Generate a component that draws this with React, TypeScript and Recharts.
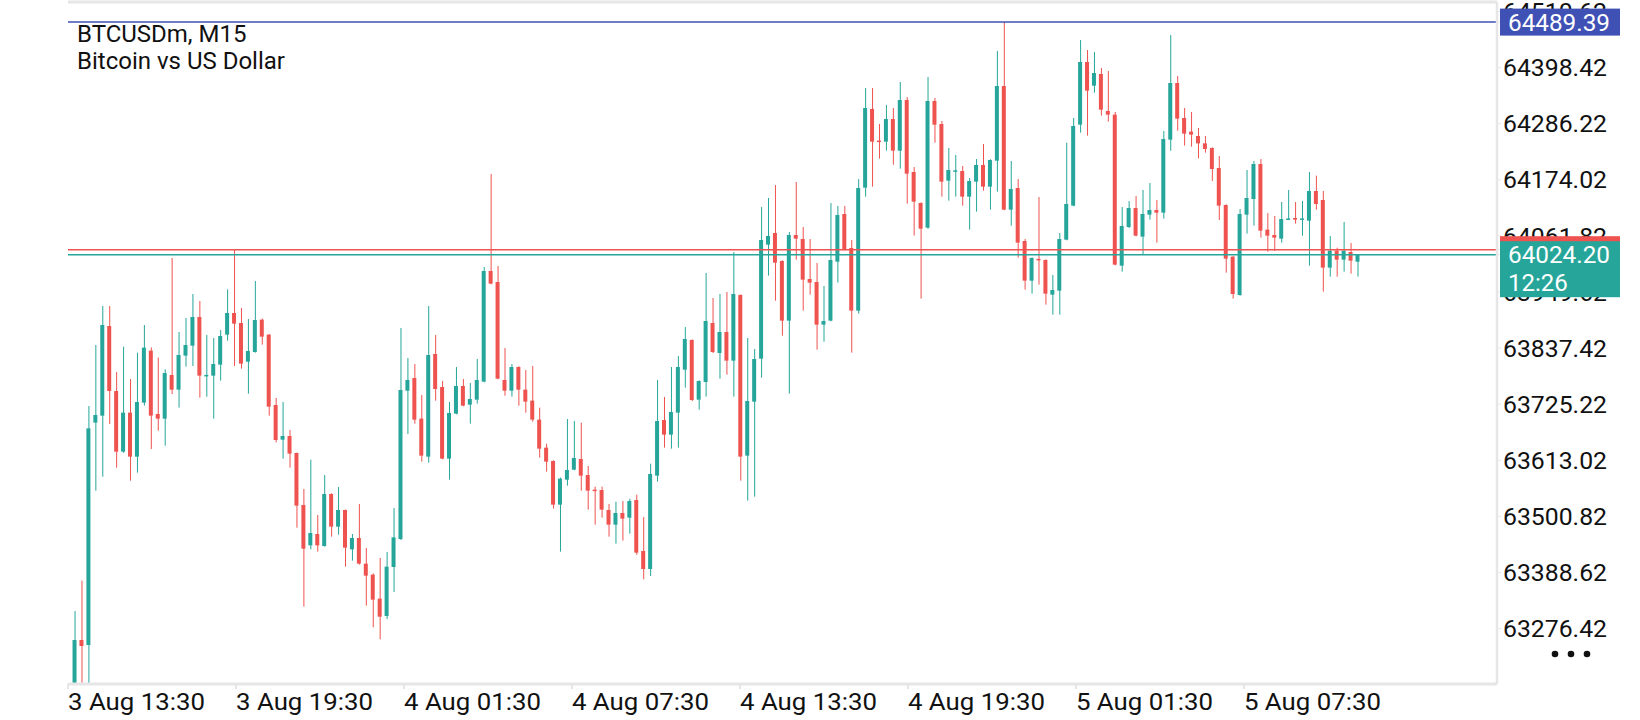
import { ComposedChart, Bar, XAxis, YAxis, ReferenceLine } from "recharts";

// BTCUSDm M15 candles, 3 Aug 13:45 onward
const OPEN = [
  63160, 63253.6, 63243.6, 63688.3, 63702.3, 63881.6, 63751.6, 63630.3, 63708.3, 63620.3,
  63728.3, 63832.3, 63705.6, 63696.3, 63783.6, 63754.3, 63822.3, 63842.3, 63899.6, 63780.9,
  63782.3, 63804.3, 63864.3, 63907.6, 63887.6, 63810.3, 63829.6, 63894.3, 63864.3, 63723.6,
  63654.3, 63661.6, 63627.6, 63523.6, 63442.9, 63465.6, 63441.6, 63545.6, 63480.3, 63513.6,
  63434.9, 63457.6, 63406.3, 63384.3, 63336.3, 63301.6, 63399.6, 63455.6, 63752.3, 63777.6,
  63696.3, 63620.3, 63825.6, 63759.6, 63616.3, 63706.3, 63761.6, 63724.3, 63734.3, 63770.3,
  63991.6, 63969.6, 63773.6, 63752.3, 63799.6, 63754.3, 63732.3, 63694.3, 63638.3, 63611.6,
  63524.3, 63574.3, 63594.3, 63615.6, 63583.6, 63553.6, 63553.6, 63513.6, 63484.3, 63507.6,
  63498.3, 63533.6, 63431.6, 63395.6, 63582.3, 63693.6, 63664.3, 63708.3, 63794.3, 63853.6,
  63734.3, 63769.6, 63887.6, 63827.6, 63869.6, 63812.3, 63943.6, 63622.3, 63730.3, 63816.3,
  64044.3, 64067.6, 64011.6, 63892.3, 64063.6, 64055.6, 63975.6, 63969.6, 63884.3, 63892.3,
  64010.3, 64105.6, 64037.6, 63912.3, 64158.3, 64315.6, 64251.5, 64250.3, 64295.6, 64232.3,
  64333.6, 64189.6, 64127.6, 64078.3, 64331.6, 64285.6, 64172.3, 64191, 64191.6, 64140.3,
  64170.3, 64203.6, 64160.3, 64212.3, 64361.6, 64114.3, 64157.6, 64051.6, 63972.3, 64015,
  64013.6, 63944.3, 63952.3, 64054.3, 64122.3, 64284.3, 64409.6, 64362.3, 64385.6, 64311.6,
  64304.3, 64002.3, 64079.6, 64117.6, 64060.3, 64104.3, 64113.6, 64108.3, 64254.3, 64367.6,
  64297.6, 64270.3, 64261.6, 64246.9, 64237.6, 64197.6, 64123.6, 64020.3, 63943.6, 64104.3,
  64135.6, 64205.6, 64074.3, 64063.6, 64056.3, 64094.9, 64097.6, 64094.3, 64092.3, 64151.6,
  64133.6, 63998.3, 64032.3, 64014.3, 64029.6, 64010.3,
];

const HIGH = [
  63311.6, 63372.2, 63721.6, 63843.6, 63921.6, 63921.6, 63789.6, 63840.3, 63775.6, 63828.3,
  63883.6, 63838.9, 63818.3, 63794.9, 64017.6, 63869.6, 63897.6, 63945.6, 63931.6, 63863.6,
  63857.6, 63873.6, 63954.9, 64033.6, 63917.6, 63895.6, 63971.6, 63896.3, 63865.6, 63737.6,
  63729.6, 63673.6, 63628.5, 63555.6, 63614.3, 63503.6, 63583.6, 63547, 63559.6, 63514.5,
  63465.6, 63525.6, 63437.6, 63386.9, 63417.6, 63429.6, 63517.6, 63877.6, 63817.6, 63805.6,
  63743.6, 63921.6, 63863.6, 63771.6, 63729.6, 63799.6, 63775.6, 63767.6, 63815.6, 63999.6,
  64185.6, 64001.6, 63837.6, 63805.6, 63801, 63793.6, 63801.6, 63718.3, 63646.3, 63613,
  63578.3, 63695.6, 63691.6, 63688.3, 63601.6, 63560.3, 63560.3, 63525.6, 63530.3, 63531.6,
  63536.3, 63544.3, 63499.6, 63606.3, 63773.6, 63739.6, 63799.6, 63821.6, 63879.6, 63855,
  63773, 63987.6, 63937.6, 63945.6, 63949.6, 64029.6, 63945, 63857.6, 63835.6, 64119.6,
  64137.6, 64163.6, 64013, 64069.6, 64169.6, 64079.6, 64055.6, 64007.6, 63961.6, 64127.6,
  64121.6, 64121.6, 64053.6, 64175.6, 64357.6, 64357.6, 64285.6, 64323.6, 64317.6, 64369.6,
  64339.6, 64199.6, 64129, 64379.6, 64337.6, 64291.6, 64237.6, 64223.6, 64201.6, 64177.6,
  64215.6, 64245.6, 64215, 64431.6, 64489.39, 64211.6, 64175.6, 64055.6, 64019, 64139.6,
  64015, 63983.6, 64067.6, 64248.3, 64297.6, 64453.6, 64433.6, 64429.6, 64397.6, 64391.6,
  64309.6, 64119.6, 64131.6, 64141.6, 64153.6, 64167.6, 64133.6, 64271.6, 64463.6, 64381.6,
  64317.6, 64309.6, 64277.6, 64261.6, 64239, 64221.6, 64125, 64021.5, 64115.6, 64193.6,
  64211.6, 64215.6, 64107.6, 64101.6, 64129.6, 64153.6, 64129.6, 64131.6, 64189.6, 64182.3,
  64151.6, 64061.6, 64038.3, 64089.6, 64047.6, 64024.2,
];

const LOW = [
  63140, 63150, 63150, 63552.3, 63580.3, 63685.6, 63598.3, 63628, 63572.3, 63588.3,
  63722.3, 63635.6, 63672.3, 63642.3, 63745.6, 63718.3, 63800.3, 63801.6, 63738.3, 63740.3,
  63696.3, 63772.3, 63852.3, 63801.6, 63796.3, 63746.3, 63828.3, 63844.3, 63702.3, 63648.9,
  63616.3, 63598.3, 63478.3, 63320.3, 63434.9, 63430.3, 63440.3, 63460.3, 63464.3, 63400.3,
  63412.3, 63404.3, 63322.3, 63279, 63255, 63295.6, 63349.6, 63453.6, 63665.6, 63686.3,
  63610.3, 63608.3, 63732.3, 63615, 63574.3, 63705, 63721, 63686.3, 63726.3, 63769,
  63965, 63775, 63742.3, 63740.3, 63722.3, 63708.3, 63690.3, 63618.3, 63590.3, 63516.3,
  63430.3, 63562.3, 63593, 63552.3, 63514.3, 63484.3, 63498.3, 63460.3, 63446.3, 63452.3,
  63466.3, 63424.2, 63375, 63381.6, 63570.3, 63638.3, 63636.3, 63638.3, 63758.3, 63731.6,
  63714.3, 63740.3, 63827.6, 63776.3, 63784.3, 63740.3, 63572.3, 63532.3, 63540.3, 63778.3,
  63982.3, 63932.3, 63862.3, 63746.3, 64014.3, 63912.3, 63944.3, 63834.3, 63850.3, 63891,
  63968.3, 64033, 63828.3, 63906.3, 64140.3, 64160.3, 64216.3, 64232.3, 64204.3, 64196.3,
  64126.3, 64062.3, 63936.3, 64076, 64248.3, 64140.3, 64132.3, 64140.3, 64122.3, 64074.3,
  64110.3, 64152.3, 64114.3, 64150.3, 64113, 64082.3, 64018.3, 63954.3, 63946.3, 63964.3,
  63924.3, 63904.3, 63904.3, 64053, 64121, 64268.3, 64262.3, 64348.3, 64302.3, 64290.3,
  64003, 63990.3, 64077.6, 64061, 64024.9, 64094.3, 64048.3, 64096.3, 64232.3, 64272.3,
  64242.3, 64240.3, 64216.9, 64228.3, 64171.6, 64093.6, 63988.3, 63936.3, 63942, 64066.3,
  64082.3, 64058.3, 64030.3, 64031.6, 64048.3, 64093.5, 64086.3, 64062.3, 64002.3, 64114.3,
  63950.3, 63980.3, 63980.3, 63990.3, 63986.3, 63980.3,
];

const CLOSE = [
  63253.6, 63241.6, 63676.9, 63703.6, 63883.6, 63751.6, 63630.3, 63708.3, 63620.3, 63729.6,
  63838.3, 63702.3, 63696.3, 63787.6, 63754.3, 63823.6, 63843.6, 63899.6, 63782.3, 63783.6,
  63805.6, 63861.6, 63907.6, 63886.3, 63806.3, 63831.6, 63893.6, 63860.3, 63720.3, 63653.6,
  63661.6, 63626.3, 63522.3, 63436.3, 63467.6, 63442.9, 63545.6, 63480.3, 63513.6, 63438.3,
  63457.6, 63406.3, 63382.3, 63334.3, 63300.2, 63400.3, 63458.9, 63753.6, 63773.6, 63694.3,
  63622.3, 63823.6, 63755.6, 63616.3, 63707.6, 63761.6, 63722.3, 63735.6, 63773.6, 63991.6,
  63966.3, 63776.3, 63752.3, 63799.6, 63754.3, 63730.3, 63694.3, 63636.3, 63610.3, 63524.3,
  63576.3, 63593.6, 63617.6, 63582.3, 63552.3, 63552, 63514.3, 63484.3, 63507.6, 63496.3,
  63531.6, 63428.3, 63395.6, 63585.6, 63691.6, 63664.3, 63709.6, 63799.6, 63855.6, 63733.6,
  63771.6, 63891.6, 63829.6, 63869.6, 63812.3, 63945.6, 63620.3, 63731.6, 63815.6, 64053.6,
  64061.6, 64008.3, 63892.3, 64063.6, 64056.3, 63974.3, 63968.3, 63884.3, 63891.6, 64013.6,
  64103.6, 64034.3, 63912.3, 64157.6, 64317.6, 64250.3, 64250.3, 64295.6, 64232.3, 64333.6,
  64186.3, 64130.3, 64076.3, 64331.6, 64284.3, 64170.3, 64193.6, 64192, 64140.3, 64171.6,
  64203.6, 64160.3, 64213.6, 64361.6, 64114.3, 64155.6, 64048.3, 63972.3, 64017.6, 64013.6,
  63946.3, 63953.6, 64055.6, 64125.6, 64281.6, 64409.6, 64352.3, 64387.6, 64314.3, 64304.3,
  64004.3, 64081.6, 64117.6, 64062.3, 64105.6, 64113.6, 64108.3, 64255.6, 64367.6, 64296.3,
  64266.3, 64264.3, 64246.9, 64235.6, 64195.6, 64122.3, 64016.3, 63945.6, 64105.6, 64137.6,
  64205.6, 64072.3, 64062.3, 64058.3, 64095.6, 64095.6, 64094.3, 64096.3, 64151.6, 64125.6,
  63998.3, 64032.3, 64014.3, 64032.3, 64012.3, 64024.2,
];

// time axis: candle index, labels every 6 hours
const X_TICKS = [-1.01, 23.22, 47.44, 71.66, 95.89, 120.11, 144.34, 168.56];
const X_LABELS = [
  "3 Aug 13:30", "3 Aug 19:30", "4 Aug 01:30", "4 Aug 07:30",
  "4 Aug 13:30", "4 Aug 19:30", "5 Aug 01:30", "5 Aug 07:30",
];
const X_MIN = -1.01;
const X_MAX = 205.05;

const Y_TICKS = [
  64510.62, 64398.42, 64286.22, 64174.02, 64061.82, 63949.62,
  63837.42, 63725.22, 63613.02, 63500.82, 63388.62, 63276.42,
];
const Y_MIN = 63165.6;
const Y_MAX = 64529.6;

const HIGH_LINE = 64489.39;
const ASK = 64034.2;
const BID = 64024.2;
const COUNTDOWN = "12:26";
const SYMBOL = "BTCUSDm, M15";
const DESCRIPTION = "Bitcoin vs US Dollar";

const UP = "#26a69a";
const DOWN = "#ef5350";
const BLUE = "#3f51b5";
const FRAME = "#e6e6e6";
const INK = "#111";
const FONT = "Roboto, sans-serif";
const FS = 24;

const rows = OPEN.map((o, i) => ({
  i,
  o,
  c: CLOSE[i],
  wick: [LOW[i], HIGH[i]],
  body: [Math.min(o, CLOSE[i]), Math.max(o, CLOSE[i])],
}));

const colorOf = (p: any) => (p.c >= p.o ? UP : DOWN);

const Wick = (props: any) => {
  const { x, y, width, height, payload } = props;
  return (
    <rect
      x={x + width / 2 - 0.5}
      y={y}
      width={1}
      height={Math.max(height, 1)}
      fill={colorOf(payload)}
    />
  );
};

const Body = (props: any) => {
  const { x, y, width, height, payload } = props;
  return (
    <rect
      x={x}
      y={height < 1.5 ? y + height / 2 - 0.75 : y}
      width={width}
      height={Math.max(height, 1.5)}
      fill={colorOf(payload)}
    />
  );
};

const XTick = (props: any) => {
  const { x, y, index } = props;
  return (
    <text
      x={x}
      y={y}
      dy={19}
      textAnchor="start"
      fontFamily={FONT}
      fontSize={FS}
      fill={INK}
      textLength={137}
      lengthAdjust="spacingAndGlyphs"
    >
      {X_LABELS[index]}
    </text>
  );
};

// the price tags come last in the tick list so they cover the plain labels
const Y_AXIS_TICKS = [...Y_TICKS, HIGH_LINE, ASK, BID];

const YTick = (props: any) => {
  const { x, y, payload } = props;
  const v = payload.value;
  const left = x - 3;
  const txt = (s: string, yy: number, fill: string, len?: number) => (
    <text
      x={left + 8}
      y={yy}
      dy="0.36em"
      fontFamily={FONT}
      fontSize={FS}
      fill={fill}
      textLength={len}
      lengthAdjust={len ? "spacingAndGlyphs" : undefined}
    >
      {s}
    </text>
  );
  if (v === HIGH_LINE) {
    return (
      <g>
        <rect x={left} y={y - 13.5} width={120} height={27} fill={BLUE} />
        {txt(HIGH_LINE.toFixed(2), y, "#fff", 102)}
      </g>
    );
  }
  if (v === ASK) {
    return <rect x={left} y={y - 13.5} width={120} height={27} fill={DOWN} />;
  }
  if (v === BID) {
    return (
      <g>
        <rect x={left} y={y - 13.5} width={120} height={56} fill={UP} />
        {txt(BID.toFixed(2), y, "#fff", 102)}
        {txt(COUNTDOWN, y + 28, "#fff")}
      </g>
    );
  }
  return (
    <text
      x={x}
      y={y}
      dy="0.36em"
      textAnchor="start"
      fontFamily={FONT}
      fontSize={FS}
      fill={INK}
      textLength={104}
      lengthAdjust="spacingAndGlyphs"
    >
      {Number(v).toFixed(2)}
    </text>
  );
};

export default function App() {
  return (
    <div
      style={{
        position: "absolute",
        left: 0,
        top: 0,
        width: 1640,
        height: 720,
        background: "#fff",
        overflow: "hidden",
      }}
    >
      <ComposedChart
        width={1640}
        height={720}
        data={rows}
        margin={{ top: 2, right: 0, bottom: 0, left: 68 }}
      >
        <XAxis
          xAxisId="w"
          type="number"
          dataKey="i"
          domain={[X_MIN, X_MAX]}
          allowDataOverflow
          ticks={X_TICKS}
          interval={0}
          tick={<XTick />}
          tickSize={5}
          tickMargin={2}
          height={36}
          axisLine={{ stroke: FRAME, strokeWidth: 3 }}
          tickLine={{ stroke: FRAME, strokeWidth: 2 }}
        />
        <XAxis
          xAxisId="b"
          type="number"
          dataKey="i"
          domain={[X_MIN, X_MAX]}
          allowDataOverflow
          orientation="top"
          height={0}
          hide
        />
        <YAxis
          orientation="right"
          type="number"
          width={143}
          domain={[Y_MIN, Y_MAX]}
          allowDataOverflow
          ticks={Y_AXIS_TICKS}
          interval={0}
          tick={<YTick />}
          tickSize={4}
          tickMargin={2}
          axisLine={{ stroke: FRAME, strokeWidth: 2.5 }}
          tickLine={{ stroke: FRAME }}
        />
        <Bar xAxisId="w" dataKey="wick" barSize={1} shape={Wick} isAnimationActive={false} />
        <Bar xAxisId="b" dataKey="body" barSize={4} shape={Body} isAnimationActive={false} />
        <ReferenceLine xAxisId="w" y={Y_MAX} stroke={FRAME} strokeWidth={3} />
        <ReferenceLine xAxisId="w" y={HIGH_LINE} stroke={BLUE} strokeWidth={1.5} />
        <ReferenceLine xAxisId="w" y={ASK} stroke={DOWN} strokeWidth={1.5} />
        <ReferenceLine xAxisId="w" y={BID} stroke={UP} strokeWidth={1.5} />
      </ComposedChart>
      <div
        style={{
          position: "absolute",
          left: 77,
          top: 21,
          fontFamily: FONT,
          fontSize: FS,
          lineHeight: "27px",
          color: INK,
          whiteSpace: "nowrap",
        }}
      >
        <div>{SYMBOL}</div>
        <div>{DESCRIPTION}</div>
      </div>
      <svg width={60} height={20} style={{ position: "absolute", left: 1541, top: 644 }}>
        <circle cx={14} cy={10} r={3.3} fill={INK} />
        <circle cx={30} cy={10} r={3.3} fill={INK} />
        <circle cx={46} cy={10} r={3.3} fill={INK} />
      </svg>
    </div>
  );
}
